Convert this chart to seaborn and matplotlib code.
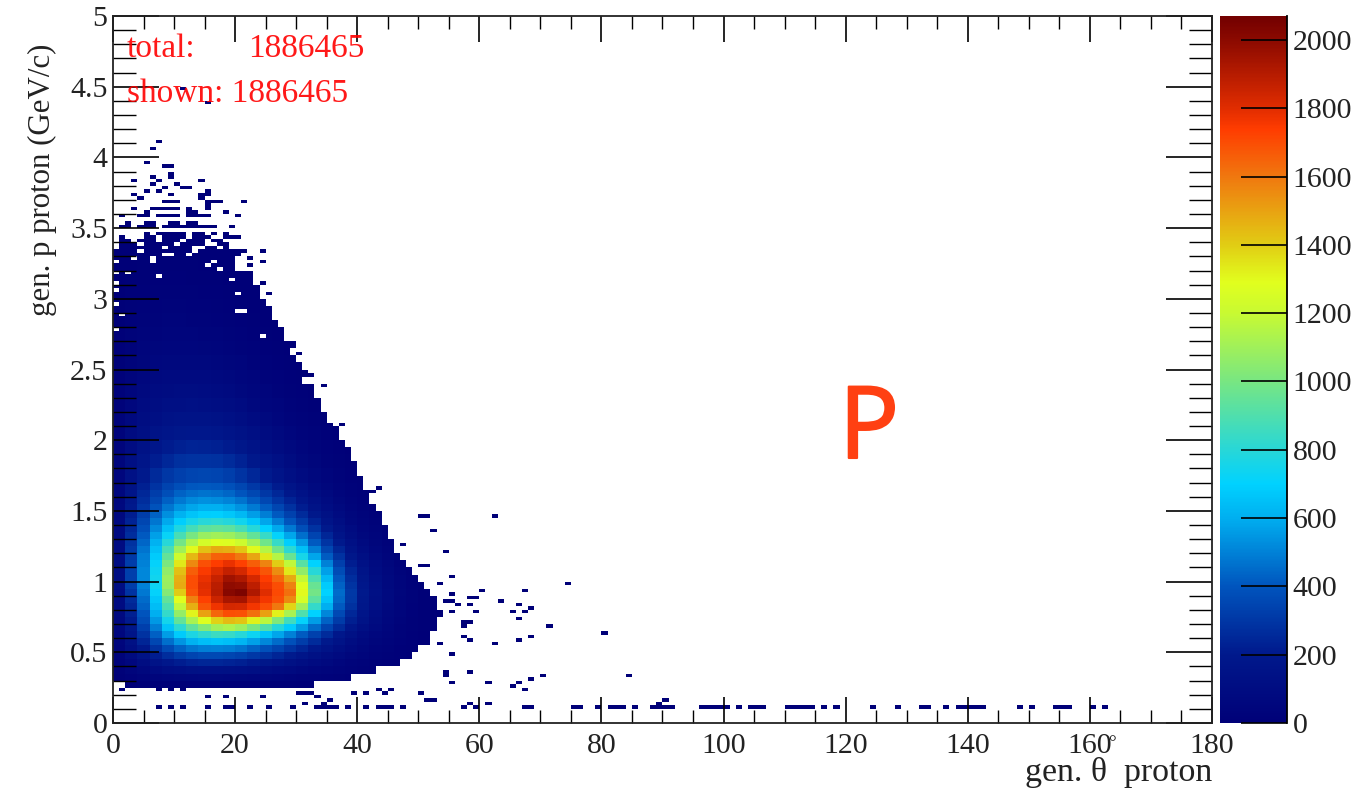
import numpy as np
import pandas as pd
import matplotlib
matplotlib.use("Agg")
import matplotlib.pyplot as plt
import matplotlib.patheffects as pe
from matplotlib.colors import LinearSegmentedColormap
import seaborn as sns

# histogram has 1 deg x 0.025 GeV/c bins
n_theta = 180
n_p = 200
total_entries = 1886465

# counts, one list per 0.05 GeV/c row from p=0.25,
# each value covers 2 deg starting at theta=0
rows_fine = [
    [0,3,5,6,7,8,9,9,9,8,8,7,6,6,5,4,4,3,3,2,2,1,1,1,0,0,0],
    [8,18,30,40,50,55,60,62,62,60,55,52,46,40,34,28,24,18,14,10,7,5,4,2,1,0,0],
    [15,40,65,90,110,125,135,140,140,135,130,120,105,92,78,65,52,40,30,22,15,10,7,4,2,0,0],
    [25,60,105,150,190,215,235,245,245,235,225,205,185,160,135,110,90,70,50,36,25,16,10,6,3,1,0],
    [30,85,150,215,270,315,345,360,360,350,335,305,275,240,205,170,135,105,78,55,38,25,16,9,4,1,0],
    [40,110,195,285,365,430,475,495,500,490,470,430,385,340,290,240,195,150,110,78,55,36,22,12,6,2,0],
    [50,135,240,355,460,545,610,645,655,645,615,570,510,450,385,320,260,200,150,105,72,48,30,18,9,3,0],
    [58,165,285,425,560,680,770,820,850,840,800,735,660,580,500,415,335,260,190,135,92,60,38,22,11,4,1],
    [65,185,330,490,660,810,940,1030,1100,1130,1090,1000,900,790,680,560,450,345,255,180,122,78,50,28,14,5,1],
    [72,205,370,550,750,950,1120,1280,1390,1440,1420,1320,1170,1020,860,710,560,430,315,220,150,96,60,34,16,6,1],
    [78,225,400,600,830,1070,1310,1500,1640,1700,1690,1620,1500,1320,1120,900,700,510,360,250,168,108,68,38,18,7,1],
    [85,240,430,640,890,1180,1470,1680,1770,1830,1820,1760,1700,1600,1380,1100,830,600,410,280,185,120,75,42,20,8,1],
    [92,260,450,670,950,1290,1580,1730,1850,1930,1940,1830,1760,1690,1560,1250,930,660,440,300,195,125,78,44,21,8,1],
    [100,290,480,710,1030,1400,1680,1790,1900,2010,2040,1920,1800,1710,1620,1300,990,700,450,305,200,128,80,45,21,7,1],
    [110,320,500,730,1080,1480,1700,1800,1890,1990,1980,1880,1770,1700,1580,1280,960,680,430,290,190,122,76,44,20,6,0],
    [110,330,510,740,1090,1470,1700,1780,1860,1950,1920,1830,1740,1640,1480,1190,890,630,405,270,176,112,70,40,18,5,0],
    [112,330,510,730,1060,1430,1660,1750,1810,1870,1830,1750,1680,1550,1340,1060,800,570,370,245,160,100,62,34,14,4,0],
    [110,320,500,710,1010,1340,1560,1690,1740,1780,1730,1660,1570,1400,1180,920,700,500,330,215,140,88,54,28,11,3,0],
    [105,310,490,680,950,1220,1450,1580,1650,1660,1600,1490,1340,1150,960,760,580,415,285,185,120,74,44,22,8,2,0],
    [100,300,470,650,880,1100,1300,1430,1480,1470,1420,1300,1150,980,810,650,490,350,240,155,100,60,36,16,5,1,0],
    [95,285,440,610,800,990,1140,1240,1280,1270,1220,1110,980,840,690,550,410,295,200,130,82,48,28,12,3,0,0],
    [90,270,410,570,720,880,1000,1080,1100,1090,1040,950,840,710,580,460,345,245,165,105,66,38,20,8,2,0,0],
    [85,250,380,520,650,780,870,930,950,930,880,800,700,590,480,380,285,200,135,85,52,30,14,5,0,0,0],
    [80,235,350,475,590,690,760,800,810,790,740,670,580,490,400,315,235,165,110,68,40,22,10,3,0,0,0],
    [75,215,320,430,530,610,660,690,695,670,630,565,490,410,335,260,192,135,88,54,30,16,7,2,0,0,0],
    [70,200,295,390,475,540,580,605,605,580,540,485,420,350,280,215,155,108,70,42,24,12,4,1,0,0,0],
    [66,185,270,350,425,480,515,530,525,505,465,415,355,295,235,178,128,88,56,32,18,8,3,0,0,0,0],
    [62,170,248,320,380,430,455,465,460,440,400,355,300,248,195,148,105,70,44,25,13,5,1,0,0,0,0],
    [58,155,225,290,340,380,405,410,405,385,350,305,255,208,162,120,84,56,34,19,9,3,1,0,0,0,0],
]

# above p=1.70 it is smooth, one list per 0.1 GeV/c
rows_coarse = [
    [52,140,200,255,300,330,345,350,345,325,290,250,205,165,125,92,62,40,24,12,5],
    [46,120,170,215,250,275,285,285,280,262,232,198,160,126,94,68,45,28,15,7,2],
    [40,100,145,180,210,225,235,232,225,208,182,154,124,96,70,50,32,18,9,3],
    [34,85,122,150,172,185,190,188,180,165,142,118,94,72,52,35,21,11,4,1],
    [30,72,102,125,142,152,155,150,143,130,110,90,70,52,36,23,13,6,2],
    [26,60,86,105,118,125,126,122,115,102,86,68,52,38,25,15,7,3],
    [22,50,72,86,97,102,102,98,90,80,66,52,38,26,16,9,4,1],
    [18,42,60,72,80,83,82,78,72,62,50,38,27,18,10,5,2],
    [15,35,48,58,64,66,65,61,55,47,37,27,18,11,6,2],
    [12,28,38,46,50,52,50,47,41,34,26,18,11,6,3,1],
    [10,22,30,36,38,39,38,34,30,24,18,12,7,3,1],
    [8,17,23,27,29,29,27,24,20,16,11,7,4,2],
    [5,13,17,20,21,21,19,17,14,10,7,4,2,1],
    [3,9,12,14,15,14,13,11,9,6,4,2,1],
    [2,6,8,10,10,9,8,7,5,3,2,1],
    [2,4,5,6,6,6,5,4,3,2,1],
    [1,2,3,3,3,3,2,2,1,1,1],
]

# right edge of the filled region (deg), one value per 0.05 GeV/c from p=0.25
edge_theta = [33,39,43,47,49,50,52,52,53,53,54,53,53,52,51,50,49,48,47,46,46,45,45,44,44,43,
              42,42,41,41,40,40,39,39,38,37,37,35,35,34,34,33,33,31,32,31,30,29,30,28,28,27,
              26,26,25,24,24,23,23,20,20,21,0]

# speckled rows just above the filled region
speck_p = [3.37, 3.39, 3.41, 3.44, 3.47, 3.50, 3.52, 3.55]
speck_theta = [
    [1,2,3,4,5,6,7,9,10,11,12,15,16,18],
    [1,2,3,5,6,7,8,9,11,12,13,14,17,18],
    [1,2,4,5,6,8,9,10,12,13,14,16,17],
    [1,5,6,8,9,10,11,13,14,15,18,19,20],
    [5,7,8,9,10,11,13,14,16,18],
    [2,5,8,9,10,12,13,15,16,19],
    [1,4,6,8,9,11,14,15],
    [2,5,6,9,10,12,13],
]

# single entries outside the main blob
single_theta = [7,6,5,8,9,9,9,6,7,3,14,6,10,11,12,8,5,7,15,9,3,14,15,4,14,8,9,10,15,16,17,21,
                3,15,6,7,8,9,10,12,15,5,12,13,18,1,4,5,7,8,9,10,12,13,14,15,20,11,15,
                24,21,22,24,22,25,24,30,32,34,37,35,43,42,
                51,52,47,51,53,50,62,52,54,50,55,53,74,60,67,55,58,58,59,63,54,55,56,66,68,53,55,59,65,67,66,
                57,58,57,71,80,57,68,58,66,62,53,55,54,54,58,70,84,68,55,61,66,65,67,50,51,58,61,90,89,
                9,11,15,19,22,25,29,33,34,35,36,38,41,43,44,45,47,57,59,67,68,75,76,79,81,82,83,85,
                88,89,90,91,96,97,98,99,100,102,104,105,106,110,111,112,113,114,116,118,124,128,132,133,
                136,138,139,140,141,142,148,154,155,156,160,162,150,
                7,7,18,24,31,34,35,52,15,18,33,35,41,44,50,30,31,32,39,7,9,11,1,45,43]
single_p = [4.11,4.06,3.96,3.93,3.93,3.89,3.86,3.86,3.83,3.83,3.83,3.81,3.81,3.79,3.79,3.79,3.76,3.76,3.76,3.73,3.73,3.73,3.73,3.71,3.71,3.68,3.68,3.68,3.68,3.68,3.68,3.68,
            3.63,3.65,3.63,3.63,3.63,3.63,3.63,3.63,3.63,3.61,3.61,3.61,3.61,3.58,3.58,3.58,3.58,3.58,3.58,3.58,3.58,3.58,3.58,3.58,3.58,4.49,4.39,
            3.34,3.34,3.29,3.27,3.235,3.04,3.11,2.61,2.46,2.39,2.11,2.11,1.66,1.63,
            1.465,1.365,1.26,1.11,0.99,1.46,1.46,1.36,1.21,1.105,1.035,0.98,0.98,0.935,0.935,0.905,0.88,0.84,0.885,0.858,0.858,0.858,0.827,0.827,0.806,0.78,0.78,0.78,0.78,0.78,0.73,
            0.71,0.71,0.68,0.68,0.63,0.61,0.61,0.58,0.58,0.56,0.56,0.483,0.355,0.33,0.355,0.33,0.33,0.304,0.285,0.285,0.285,0.257,0.233,0.207,0.157,0.127,0.127,0.157,0.127,
            0.11,0.11,0.11,0.11,0.11,0.11,0.11,0.11,0.11,0.11,0.11,0.11,0.11,0.11,0.11,0.11,0.11,0.11,0.11,0.11,0.11,0.11,0.11,0.11,0.11,0.11,0.11,0.11,
            0.11,0.11,0.11,0.11,0.11,0.11,0.11,0.11,0.11,0.11,0.11,0.11,0.11,0.11,0.11,0.11,0.11,0.11,0.11,0.11,0.11,0.11,0.11,0.11,0.11,0.11,0.11,0.11,
            0.11,0.11,0.11,0.11,0.11,0.11,0.11,0.11,0.11,0.11,0.11,0.11,0.18,
            0.15,0.14,0.167,0.167,0.186,0.186,0.186,0.16,0.215,0.215,0.215,0.215,0.215,0.215,0.215,0.243,0.243,0.243,0.243,0.24,0.24,0.243,0.262,0.29,0.31]

# white holes in the upper part of the blob
hole_theta = [7,6,2,1,0,0,0,0,0,0,20,21,20,24,19,17,15,16,6,9,12,13,3,4,8]
hole_p = [3.17,3.26,3.19,2.88,2.79,2.97,3.07,3.11,3.18,3.25,2.92,2.92,3.05,2.74,3.14,3.21,3.24,3.25,3.29,3.32,3.31,3.34,3.29,3.33,3.31]

# palette stops
cbar_top = 2070
stop_values = [0,200,400,600,700,800,1000,1200,1290,1400,1600,1740,1800,2000,2070]
stop_colors = ["#000078","#00198c","#0055be","#00aff0","#00d2ff","#28d7d7","#78e682","#c8fa32",
               "#e1ff1e","#e1cd14","#f0780f","#ff3c00","#e12d00","#8c0a00","#730000"]

x_major = [0,20,40,60,80,100,120,140,160,180]
y_major = [0,0.5,1,1.5,2,2.5,3,3.5,4,4.5,5]
y_labels = ["0","0.5","1","1.5","2","2.5","3","3.5","4","4.5","5"]
cbar_ticks = [0,200,400,600,800,1000,1200,1400,1600,1800,2000]

counts = np.zeros((n_p, n_theta))
for i, row in enumerate(rows_fine):
    counts[10 + 2 * i:12 + 2 * i, :54] = np.repeat(row, 2)
for i, row in enumerate(rows_coarse):
    counts[68 + 4 * i:72 + 4 * i, :2 * len(row)] = np.repeat(row, 2)
for i, edge in enumerate(edge_theta):
    counts[10 + 2 * i:12 + 2 * i, edge:] = 0
for th, p in zip(hole_theta, hole_p):
    counts[int(p / 0.025), th] = 0
for p, ths in zip(speck_p, speck_theta):
    counts[int(p / 0.025), ths] = 1
for th, p in zip(single_theta, single_p):
    counts[int(p / 0.025), th] = 1

df = pd.DataFrame(counts)
root_cmap = LinearSegmentedColormap.from_list(
    "root", [(v / cbar_top, c) for v, c in zip(stop_values, stop_colors)], N=512)

plt.rcParams["font.family"] = ["Liberation Serif", "DejaVu Serif"]
W, H = 1359, 791
fig = plt.figure(figsize=(W / 100, H / 100), dpi=100)
ax = fig.add_axes([113 / W, 1 - 723 / H, (1212 - 113) / W, (723 - 16) / H])
cax = fig.add_axes([1220 / W, 1 - 723 / H, (1287 - 1220) / W, (723 - 16) / H])

sns.heatmap(df, mask=counts == 0, cmap=root_cmap, vmin=0, vmax=cbar_top,
            ax=ax, cbar_ax=cax, xticklabels=False, yticklabels=False)
ax.set_xlim(0, n_theta)
ax.set_ylim(0, n_p)
ax.set_xlabel("")
ax.set_ylabel("")
for s in ax.spines.values():
    s.set_visible(True)
    s.set_linewidth(1.3)
    s.set_color("#222222")

ax.set_xticks(x_major)
ax.set_xticklabels([str(v) for v in x_major], fontsize=21.5, color="#222222")
ax.set_xticks(range(0, 181, 5), minor=True)
ax.set_yticks([v / 0.025 for v in y_major])
ax.set_yticklabels(y_labels, fontsize=21.5, color="#222222", rotation=0)
ax.set_yticks([i * 4 for i in range(51)], minor=True)
ax.tick_params(axis="x", which="major", direction="in", top=True, bottom=True, length=19, width=1.2, pad=7.5)
ax.tick_params(axis="x", which="minor", direction="in", top=True, bottom=True, length=9.5, width=1.0)
ax.tick_params(axis="y", which="major", direction="in", left=True, right=True, length=33, width=1.2, pad=4)
ax.tick_params(axis="y", which="minor", direction="in", left=True, right=True, length=16.5, width=1.0)

cbar = ax.collections[0].colorbar
cbar.outline.set_visible(False)
cbar.set_ticks(cbar_ticks)
cbar.set_ticklabels([str(v) for v in cbar_ticks], fontsize=21.5, color="#222222")
cbar.ax.minorticks_off()
cbar.ax.tick_params(direction="in", right=True, length=33, width=1.2, pad=4)
cbar.ax.spines["right"].set_visible(True)
cbar.ax.spines["right"].set_linewidth(1.3)

fig.text(127 / W, 1 - 57 / H, "total:", color="red", fontsize=24, alpha=0.9)
fig.text(248 / W, 1 - 57 / H, str(total_entries), color="red", fontsize=24, alpha=0.9)
fig.text(127 / W, 1 - 102 / H, "shown: " + str(total_entries), color="red", fontsize=24, alpha=0.9)
big_p = fig.text(839 / W, 1 - 458 / H, "P", color="#ff4012", fontsize=72, family="Open Sans", va="baseline")
big_p.set_path_effects([pe.withStroke(linewidth=1.5, foreground="#ff4012")])
fig.text(1212 / W, 1 - 781 / H, "gen. \u03b8  proton", fontsize=24.4, ha="right", color="#222222")
fig.text(1112 / W, 1 - 748 / H, "\u00b0", fontsize=14, ha="center", color="#222222")
fig.text(42 / W, 1 - 180 / H, "gen. p proton (GeV/c)", fontsize=22.2, rotation=90,
         ha="center", va="center", color="#222222")

fig.savefig("out.png", dpi=100)
